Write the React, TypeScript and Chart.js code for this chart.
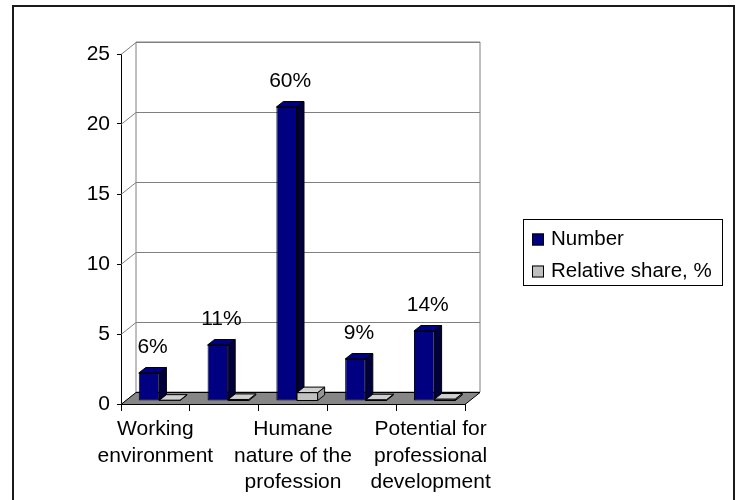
import { useEffect, useRef } from "react";
import { Chart, registerables } from "chart.js";

Chart.register(...registerables);

const categories: (string | string[])[] = [
  ["Working", "environment"],
  "",
  ["Humane", "nature of the", "profession"],
  "",
  ["Potential for", "professional", "development"],
];
const numberValues = [2, 4, 21, 3, 5];
const shareValues = [0.06, 0.11, 0.6, 0.09, 0.14];
const shareLabels = ["6%", "11%", "60%", "9%", "14%"];
const seriesNames = ["Number", "Relative share, %"];
const yMax = 25;
const yStep = 5;

const FONT = "'Liberation Sans', Arial, sans-serif";
const WALL = { dx: 15, dy: -12 };
const SHIFT = { dx: 4, dy: -3 };
const DEPTH = { dx: 7, dy: -5.5 };
const FACE = [
  { front: "#000080", top: "#000080", side: "#00003c" },
  { front: "#c0c0c0", top: "#d0d0d0", side: "#969696" },
];

function poly(ctx: CanvasRenderingContext2D, pts: number[][], fill: string | null, stroke: string | null) {
  ctx.beginPath();
  ctx.moveTo(pts[0][0], pts[0][1]);
  for (let i = 1; i < pts.length; i++) ctx.lineTo(pts[i][0], pts[i][1]);
  ctx.closePath();
  if (fill) {
    ctx.fillStyle = fill;
    ctx.fill();
  }
  if (stroke) {
    ctx.strokeStyle = stroke;
    ctx.stroke();
  }
}

const pseudo3d = {
  id: "pseudo3d",
  beforeDraw(chart: any) {
    const ctx = chart.ctx as CanvasRenderingContext2D;
    ctx.save();
    ctx.fillStyle = "#ffffff";
    ctx.fillRect(0, 0, chart.width, chart.height);
    ctx.strokeStyle = "#1a1a1a";
    ctx.lineWidth = 2;
    ctx.strokeRect(13, 6, 721, 600);
    ctx.restore();
  },
  beforeDatasetsDraw(chart: any) {
    const ctx = chart.ctx as CanvasRenderingContext2D;
    const { left, right, top, bottom } = chart.chartArea;
    const y = chart.scales.y;
    ctx.save();
    ctx.lineWidth = 1;
    poly(
      ctx,
      [
        [left + WALL.dx, top + WALL.dy],
        [right + WALL.dx, top + WALL.dy],
        [right + WALL.dx, bottom + WALL.dy],
        [left + WALL.dx, bottom + WALL.dy],
      ],
      "#ffffff",
      "#808080"
    );
    ctx.strokeStyle = "#808080";
    y.ticks.forEach((t: any) => {
      const py = Math.round(y.getPixelForValue(t.value)) + 0.5;
      ctx.beginPath();
      ctx.moveTo(left, py);
      ctx.lineTo(left + WALL.dx, py + WALL.dy);
      ctx.lineTo(right + WALL.dx, py + WALL.dy);
      ctx.stroke();
    });
    const b = Math.round(bottom) + 0.5;
    poly(
      ctx,
      [
        [left, b],
        [right, b],
        [right + WALL.dx, b + WALL.dy],
        [left + WALL.dx, b + WALL.dy],
      ],
      "#868686",
      "#000000"
    );
    ctx.restore();
    ctx.save();
    ctx.translate(SHIFT.dx, SHIFT.dy);
  },
  afterDatasetsDraw(chart: any) {
    const ctx = chart.ctx as CanvasRenderingContext2D;
    ctx.lineWidth = 1;
    const metas = [chart.getDatasetMeta(0), chart.getDatasetMeta(1)];
    metas.forEach((meta: any, di: number) => {
      meta.data.forEach((el: any) => {
        const p = el.getProps(["x", "y", "base", "width"], true);
        const l = p.x - p.width / 2;
        const r = p.x + p.width / 2;
        const t = Math.min(p.y, p.base);
        const bs = Math.max(p.y, p.base);
        if (di === 1) {
          poly(ctx, [[l, bs], [r, bs], [r, t], [l, t]], FACE[di].front, "#000000");
        }
        poly(ctx, [[r, bs], [r, t], [r + DEPTH.dx, t + DEPTH.dy], [r + DEPTH.dx, bs + DEPTH.dy]], FACE[di].side, "#000000");
        poly(ctx, [[l, t], [r, t], [r + DEPTH.dx, t + DEPTH.dy], [l + DEPTH.dx, t + DEPTH.dy]], FACE[di].top, "#000000");
      });
    });
    ctx.fillStyle = "#000000";
    ctx.font = `21px ${FONT}`;
    ctx.textAlign = "center";
    ctx.textBaseline = "middle";
    metas[0].data.forEach((el: any, i: number) => {
      const p = el.getProps(["x", "y"], true);
      ctx.fillText(shareLabels[i], p.x + DEPTH.dx / 2, p.y - 26);
    });
    ctx.restore();
  },
  afterDraw(chart: any) {
    const ctx = chart.ctx as CanvasRenderingContext2D;
    ctx.save();
    ctx.lineWidth = 1;
    ctx.strokeStyle = "#000000";
    ctx.strokeRect(523.5, 219.5, 199, 66);
    ctx.font = `20.5px ${FONT}`;
    ctx.textAlign = "left";
    ctx.textBaseline = "middle";
    chart.data.datasets.forEach((ds: any, i: number) => {
      const cy = 239.5 + i * 32;
      ctx.fillStyle = ds.backgroundColor;
      ctx.fillRect(532, cy - 6, 12, 12);
      ctx.strokeStyle = "#000000";
      ctx.strokeRect(532.5, cy - 5.5, 11, 11);
      ctx.fillStyle = "#000000";
      ctx.fillText(ds.label, 551, cy);
    });
    ctx.restore();
  },
};

export default function App() {
  const ref = useRef<HTMLCanvasElement | null>(null);
  useEffect(() => {
    if (!ref.current) return;
    Chart.defaults.font.family = FONT;
    const chart = new Chart(ref.current, {
      type: "bar",
      data: {
        labels: categories,
        datasets: [
          {
            label: seriesNames[0],
            data: numberValues,
            backgroundColor: FACE[0].front,
            borderColor: "#000000",
            borderWidth: 1,
            borderSkipped: false,
            categoryPercentage: 0.6,
            barPercentage: 1.0,
          },
          {
            label: seriesNames[1],
            data: shareValues,
            backgroundColor: FACE[1].front,
            borderColor: "#000000",
            borderWidth: 1,
            borderSkipped: false,
            categoryPercentage: 0.6,
            barPercentage: 1.0,
          },
        ],
      },
      options: {
        responsive: false,
        animation: false,
        devicePixelRatio: 1,
        layout: { padding: { left: 0, right: 271, top: 54, bottom: 0 } },
        plugins: {
          legend: { display: false },
          tooltip: { enabled: false },
        },
        scales: {
          x: {
            afterFit: (s: any) => {
              s.height = 96;
            },
            grid: { offset: true, drawOnChartArea: false, drawTicks: true, tickLength: 7, color: "#000000" },
            border: { display: true, color: "#000000" },
            ticks: {
              autoSkip: false,
              maxRotation: 0,
              minRotation: 0,
              padding: 5,
              color: "#000000",
              font: { size: 21, family: FONT, lineHeight: 1.27 },
            },
          },
          y: {
            min: 0,
            max: yMax,
            afterFit: (s: any) => {
              s.width = 121;
            },
            grid: { drawOnChartArea: false, drawTicks: true, tickLength: 4, color: "#000000" },
            border: { display: true, color: "#000000" },
            ticks: {
              stepSize: yStep,
              padding: 7,
              color: "#000000",
              font: { size: 21, family: FONT },
            },
          },
        },
      },
      plugins: [pseudo3d],
    });
    return () => chart.destroy();
  }, []);
  return (
    <div style={{ position: "absolute", left: 0, top: 0, width: 736, height: 500, background: "#fff" }}>
      <canvas ref={ref} width={736} height={500} style={{ display: "block" }} />
    </div>
  );
}
